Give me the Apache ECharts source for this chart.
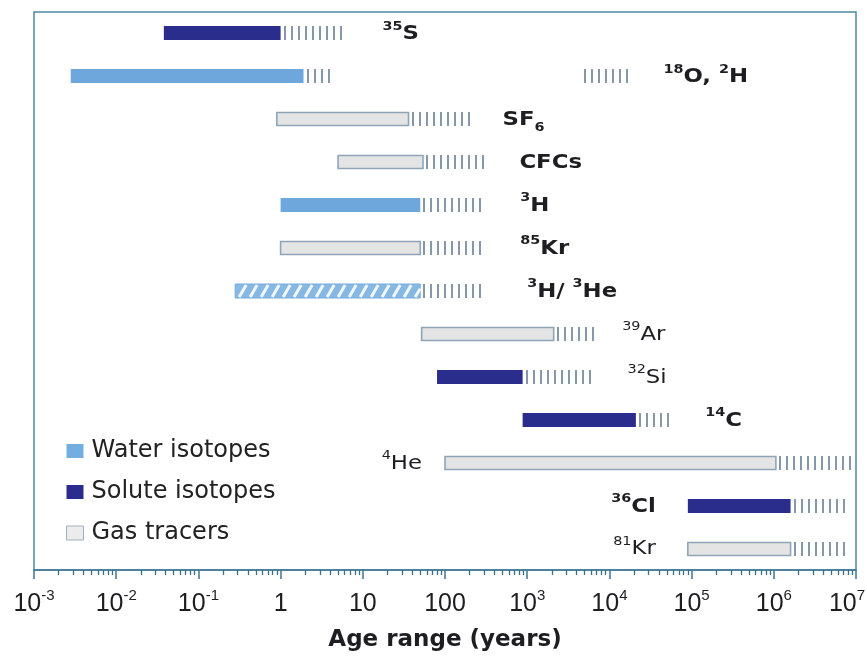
<!DOCTYPE html>
<html>
<head>
<meta charset="utf-8">
<script src="https://cdn.jsdelivr.net/npm/echarts@6/dist/echarts.min.js"></script>
<style>
  html, body { margin: 0; padding: 0; background: #fff; }
  #chart { width: 867px; height: 660px; }
</style>
</head>
<body>
<div id="chart"></div>
<script>
// ---------------- DATA ----------------
const categories = ['35S', '18O,2H', 'SF6', 'CFCs', '3H', '85Kr', '3H/3He', '39Ar', '32Si', '14C', '4He', '36Cl', '81Kr'];
const tracerGroup = ['solute', 'water', 'gas', 'gas', 'water', 'gas', 'water', 'gas', 'solute', 'solute', 'gas', 'solute', 'gas'];
const rangeStart = [0.038, 0.0028, 0.9, 5, 1, 1, 0.28, 52, 80, 880, 100, 90000, 90000];
const rangeEnd   = [1, 1.9, 36, 54, 50, 50, 50, 2100, 880, 21000, 1060000, 1600000, 1600000];
const extendedTo = [5.5, 4.4, 210, 310, 300, 300, 300, 7300, 6400, 58000, 10000000, 7500000, 7500000];
const extraRow  = ['18O,2H'];
const extraFrom = [5000];
const extraTo   = [18000];
const labelText = ['{sup|35}S', '{sup|18}O, {sup|2}H', 'SF{sub|6}', 'CFCs', '{sup|3}H', '{sup|85}Kr',
                   '{sup|3}H/ {sup|3}He', '{sup|39}Ar', '{sup|32}Si', '{sup|14}C', '{sup|4}He', '{sup|36}Cl', '{sup|81}Kr'];
const groupNames = { water: 'Water isotopes', solute: 'Solute isotopes', gas: 'Gas tracers' };
const tickValues = [0.001, 0.01, 0.1, 1, 10, 100, 1000, 10000, 100000, 1000000, 10000000];
const tickLabels = ['10^-3', '10^-2', '10^-1', '1', '10', '100', '10^3', '10^4', '10^5', '10^6', '10^7'];
const axisTitle = 'Age range (years)';

// ---------------- RENDER CONFIG ----------------
const FONT = '"DejaVu Sans", "Liberation Sans", Arial, sans-serif';
const AXFONT = '"Liberation Sans", Arial, sans-serif';
const colors = { water: '#6ea7dc', solute: '#2b2d8d', gas: '#e4e4e4' };
const gasBorder = '#8fa5b7';
const hatchColor = '#8597a9';
const labelGap = [41, 33, 31, 34, 36, 36, 43, 24, 34, 33, 23, 32, 32];
const leftLabelRows = ['4He', '36Cl', '81Kr'];
const lightLabelRows = ['39Ar', '32Si', '4He', '81Kr'];
const patternRows = ['3H/3He'];
const BAR_H = 14;

// minor ticks (2..9 x 10^k) derived from the decade ticks
const minorTicks = [];
for (let i = 0; i < tickValues.length - 1; i++) {
  for (let m = 2; m <= 9; m++) minorTicks.push(tickValues[i] * m);
}

function buildSeriesData(group) {
  const out = [];
  categories.forEach((c, i) => {
    if (tracerGroup[i] !== group) return;
    let anchor = extendedTo[i];
    extraRow.forEach((r, k) => { if (r === c) anchor = Math.max(anchor, extraTo[k]); });
    out.push([i, rangeStart[i], rangeEnd[i], extendedTo[i], anchor, 0]);
    extraRow.forEach((r, k) => {
      if (r === c) out.push([i, extraFrom[k], extraFrom[k], extraTo[k], extraTo[k], 1]);
    });
  });
  return out;
}

function renderItem(params, api) {
  const row = api.value(0);
  const s = api.value(1), e = api.value(2), h = api.value(3), anchor = api.value(4);
  const isExtra = api.value(5) === 1;
  const p0 = api.coord([s, row]);
  const x0 = p0[0], y = p0[1];
  const x1 = api.coord([e, row])[0];
  const x2 = api.coord([h, row])[0];
  const xa = api.coord([anchor, row])[0];
  const group = tracerGroup[row];
  const name = categories[row];
  const children = [];
  const top = Math.round(y - BAR_H / 2);

  if (x1 > x0) {
    if (patternRows.indexOf(name) >= 0) {
      children.push({ type: 'rect', shape: { x: x0, y: top, width: x1 - x0, height: BAR_H },
        style: { fill: '#86b8e4', stroke: '#78acdc', lineWidth: 1 } });
      const slant = 7, step = 11;
      for (let sx = x0 - slant; sx < x1; sx += step) {
        let ax = sx, ay = top + BAR_H, bx = sx + slant, by = top;
        if (ax < x0) { const t = (x0 - ax) / slant; ax = x0; ay = top + BAR_H - t * BAR_H; }
        if (bx > x1) { const t = (bx - x1) / slant; bx = x1; by = top + t * BAR_H; }
        if (bx <= ax) continue;
        children.push({ type: 'line', shape: { x1: ax, y1: ay - 1, x2: bx, y2: by + 1 },
          style: { stroke: '#f2f7fc', lineWidth: 3 } });
      }
    } else if (group === 'gas') {
      children.push({ type: 'rect', shape: { x: x0, y: top + 0.5, width: x1 - x0, height: BAR_H - 1 },
        style: { fill: colors.gas, stroke: gasBorder, lineWidth: 1.6 } });
    } else {
      children.push({ type: 'rect', shape: { x: x0, y: top, width: x1 - x0, height: BAR_H },
        style: { fill: colors[group] } });
    }
  }

  // dashed "extension" hatch
  for (let x = x1 + (isExtra ? 0 : 4); x <= x2; x += 7) {
    const xr = Math.round(x);
    children.push({ type: 'line', shape: { x1: xr, y1: top, x2: xr, y2: top + BAR_H },
      style: { stroke: hatchColor, lineWidth: 2 } });
  }

  if (!isExtra) {
    const left = leftLabelRows.indexOf(name) >= 0;
    const light = lightLabelRows.indexOf(name) >= 0;
    const lx = left ? x0 - labelGap[row] : xa + labelGap[row];
    children.push({
      type: 'text', x: lx, y: y + 1, scaleX: 1.2,
      style: {
        text: labelText[row], fontFamily: FONT, fontSize: 19, lineHeight: 28,
        fontWeight: light ? 'normal' : 'bold', fill: '#1e1e22',
        align: left ? 'right' : 'left', verticalAlign: 'middle',
        rich: {
          sup: { fontSize: 12, lineHeight: 14, fontWeight: light ? 'normal' : 'bold', fontFamily: FONT, fill: '#1e1e22', verticalAlign: 'top' },
          sub: { fontSize: 12, lineHeight: 14, fontWeight: 'bold', fontFamily: FONT, fill: '#1e1e22', verticalAlign: 'bottom' }
        }
      }
    });
  }
  return { type: 'group', children };
}

const seriesList = ['water', 'solute', 'gas'].map(g => ({
  type: 'custom',
  name: groupNames[g],
  renderItem,
  clip: false,
  itemStyle: g === 'gas' ? { color: '#e8e8e8', borderColor: '#9fb1c0', borderWidth: 1 } : { color: colors[g] },
  encode: { x: [1, 2, 3, 4], y: 0 },
  data: buildSeriesData(g)
}));

function fmtTick(v) {
  const idx = Math.round(Math.log10(v)) + 3;
  const t = tickLabels[idx] || '';
  if (t.indexOf('^') < 0) return t;
  const parts = t.split('^');
  // the last label is nudged left so it stays inside the canvas
  const style = idx === tickLabels.length - 1 ? 'supEnd' : 'sup';
  return parts[0] + '{' + style + '|' + parts[1] + '}';
}

const chart = echarts.init(document.getElementById('chart'), null, { renderer: 'canvas' });
chart.setOption({
  animation: false,
  backgroundColor: '#ffffff',
  grid: { left: 34, right: 11, top: 12, bottom: 90, show: true, borderColor: '#4f87a3', borderWidth: 1.5,
          containLabel: false, outerBoundsMode: 'none' },
  legend: {
    orient: 'vertical', left: 61, top: 432,
    itemWidth: 17, itemHeight: 14, itemGap: 13,
    icon: 'rect',
    textStyle: { fontFamily: FONT, fontSize: 24, color: '#222', lineHeight: 28, padding: [0, 0, 0, 3] },
    data: [
      { name: 'Water isotopes', itemStyle: { color: '#74aee1' } },
      { name: 'Solute isotopes', itemStyle: { color: '#2b2d8d' } },
      { name: 'Gas tracers', itemStyle: { color: '#ececec', borderColor: '#9fb1c0', borderWidth: 1 } }
    ]
  },
  xAxis: [
    {
      type: 'log', logBase: 10, min: 0.001, max: 10000000,
      name: axisTitle, nameLocation: 'middle', nameGap: 59,
      nameTextStyle: { fontFamily: FONT, fontSize: 23, fontWeight: 'bold', color: '#1e1e22' },
      axisLine: { show: true, lineStyle: { color: '#3f7892', width: 1.5 } },
      axisTick: { show: true, inside: false, length: 9, customValues: tickValues, lineStyle: { color: '#3f7892', width: 1.5 } },
      axisLabel: {
        customValues: tickValues, margin: 18, formatter: fmtTick,
        fontFamily: AXFONT, fontSize: 25, lineHeight: 32, color: '#1e1e22',
        rich: {
          sup: { fontFamily: AXFONT, fontSize: 15, lineHeight: 16, color: '#1e1e22', verticalAlign: 'top' },
          supEnd: { fontFamily: AXFONT, fontSize: 15, lineHeight: 16, color: '#1e1e22', verticalAlign: 'top', padding: [0, 18, 0, 0] }
        }
      },
      splitLine: { show: false }
    },
    {
      type: 'log', logBase: 10, min: 0.001, max: 10000000, position: 'bottom', offset: 0,
      axisLine: { show: false },
      axisTick: { show: true, inside: false, length: 5, customValues: minorTicks, lineStyle: { color: '#3a6f88', width: 1.3 } },
      axisLabel: { show: false },
      splitLine: { show: false }
    }
  ],
  yAxis: {
    type: 'category', data: categories, inverse: true, show: false,
    axisLine: { show: false }, axisTick: { show: false }, axisLabel: { show: false }
  },
  series: seriesList
});
</script>
</body>
</html>
